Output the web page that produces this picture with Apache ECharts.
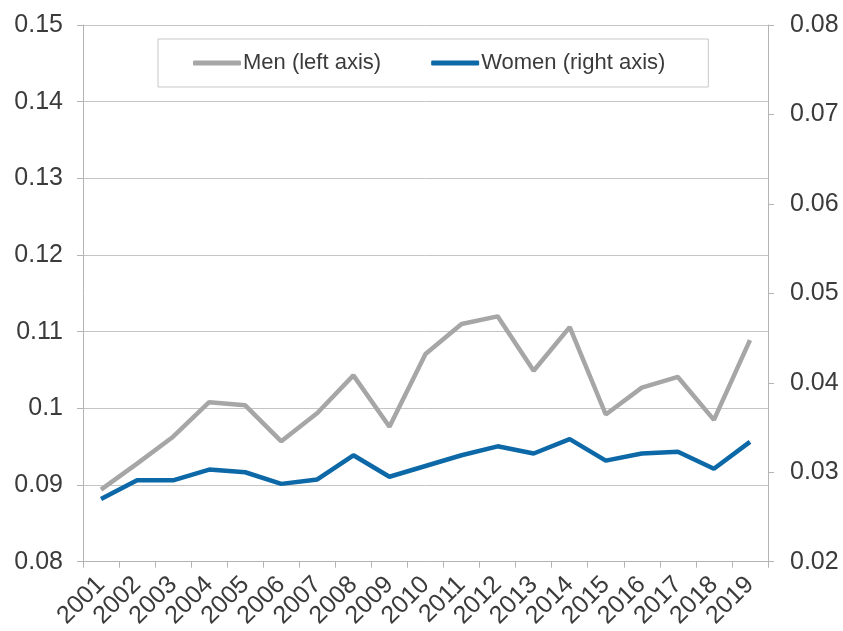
<!DOCTYPE html>
<html>
<head>
<meta charset="utf-8">
<script src="https://cdn.jsdelivr.net/npm/echarts@6/dist/echarts.min.js"></script>
<style>
  html, body { margin: 0; padding: 0; background: #fff; }
  #chart { width: 843px; height: 631px; }
</style>
</head>
<body>
<div id="chart"></div>
<script>
const years = ['2001', '2002', '2003', '2004', '2005', '2006', '2007', '2008', '2009', '2010',
  '2011', '2012', '2013', '2014', '2015', '2016', '2017', '2018', '2019']

// Men, read against the left axis
const men = [0.0894, 0.0928, 0.0963, 0.1008, 0.1004, 0.0957, 0.0994, 0.1043, 0.0976, 0.1071,
  0.1110, 0.1120, 0.1049, 0.1106, 0.0992, 0.1027, 0.1041, 0.0985, 0.1089]

// Women, read against the right axis
const women = [0.0270, 0.0291, 0.0291, 0.0303, 0.0300, 0.0287, 0.0292, 0.0319, 0.0295, 0.0307,
  0.0319, 0.0329, 0.0321, 0.0337, 0.0313, 0.0321, 0.0323, 0.0304, 0.0334]

const FONT = 'Liberation Sans, Arial, sans-serif'
const TEXT = '#3b3b3b'
const AXIS = '#b4b4b4'
const GRID = '#c4c4c4'

const fmt = v => String(+v.toFixed(2))

const chart = echarts.init(document.getElementById('chart'), null, { renderer: 'canvas' })

chart.setOption({
  animation: false,
  textStyle: { fontFamily: FONT },
  grid: { left: 83, right: 75, top: 25, bottom: 69 },
  legend: {
    left: 158,
    top: 39,
    padding: [13, 43, 13, 35],
    borderColor: '#c8c8c8',
    borderWidth: 1,
    itemGap: 50,
    itemWidth: 48,
    itemHeight: 5,
    icon: 'roundRect',
    textStyle: { fontSize: 22, color: TEXT, fontFamily: FONT, padding: [0, 0, 0, -3] },
    data: ['Men (left axis)', 'Women (right axis)'],
  },
  xAxis: {
    type: 'category',
    data: years,
    boundaryGap: true,
    axisLine: { lineStyle: { color: AXIS, width: 1 } },
    axisTick: { show: true, length: 6, lineStyle: { color: AXIS } },
    axisLabel: {
      rotate: 45,
      interval: 0,
      margin: 19,
      fontSize: 25,
      color: TEXT,
      fontFamily: FONT,
    },
    splitLine: { show: false },
  },
  yAxis: [
    {
      type: 'value',
      position: 'left',
      min: 0.08,
      max: 0.15,
      interval: 0.01,
      axisLine: { show: true, lineStyle: { color: AXIS } },
      axisTick: { show: true, length: 6, lineStyle: { color: AXIS } },
      axisLabel: { margin: 20, fontSize: 25, color: TEXT, fontFamily: FONT, formatter: fmt },
      splitLine: { show: true, lineStyle: { color: GRID, width: 1 } },
    },
    {
      type: 'value',
      position: 'right',
      min: 0.02,
      max: 0.08,
      interval: 0.01,
      axisLine: { show: true, lineStyle: { color: AXIS } },
      axisTick: { show: true, length: 6, lineStyle: { color: AXIS } },
      axisLabel: { margin: 22, fontSize: 25, color: TEXT, fontFamily: FONT, formatter: fmt },
      splitLine: { show: false },
    },
  ],
  series: [
    {
      name: 'Men (left axis)',
      type: 'line',
      yAxisIndex: 0,
      data: men,
      showSymbol: false,
      symbol: 'none',
      color: '#a6a6a6',
      lineStyle: { color: '#a6a6a6', width: 4.5 },
    },
    {
      name: 'Women (right axis)',
      type: 'line',
      yAxisIndex: 1,
      data: women,
      showSymbol: false,
      symbol: 'none',
      color: '#0c68a6',
      lineStyle: { color: '#0c68a6', width: 4.5 },
    },
  ],
})
</script>
</body>
</html>
